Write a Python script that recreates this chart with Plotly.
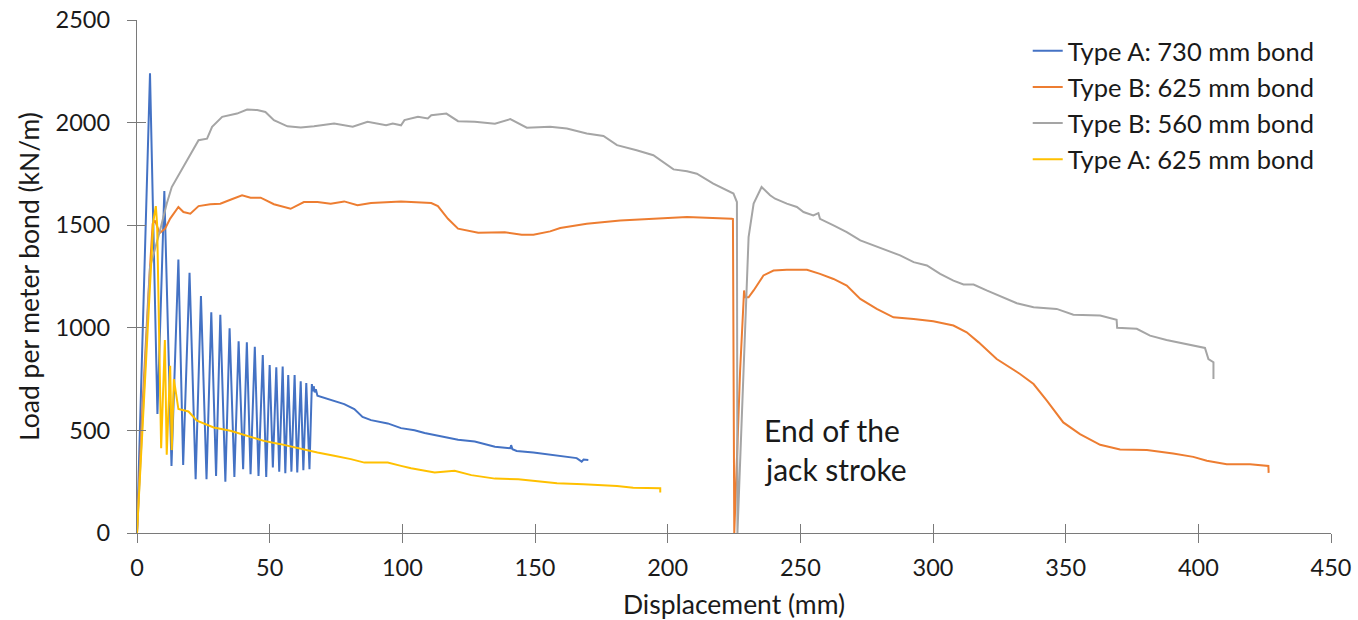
import plotly.graph_objects as go

# ---- data ----
a730_x = [0, 4.9, 7.7, 10.3, 13.0, 15.6, 17.4, 19.8, 22.1, 24.1, 26.2, 28.0, 29.8, 31.4, 33.3, 34.9,
          36.7, 38.3, 40.0, 41.4, 42.8, 44.4, 45.8, 47.4, 48.7, 50.0, 51.2, 52.5, 53.6, 54.9, 55.9,
          57.0, 58.2, 59.4, 60.4, 61.7, 62.7, 63.8, 65.0, 65.9, 66.3, 66.6, 67.0, 67.4, 68.0, 73.0,
          78.1, 81.9, 85.0, 88.2, 94.5, 99.5, 104.6, 108.4, 114.7, 121.0, 127.3, 134.9, 140.7, 141.0,
          141.5, 143.1, 149.4, 155.7, 162.0, 165.7, 167.6, 168.3, 170.1]
a730_y = [0, 2240, 580, 1667, 327, 1333, 332, 1268, 262, 1155, 262, 1076, 278, 1064, 250, 998,
          273, 934, 311, 929, 287, 908, 278, 867, 273, 819, 319, 807, 299, 811, 291,
          770, 299, 770, 295, 739, 306, 731, 311, 726, 690, 715, 685, 700, 669, 648,
          628, 604, 566, 550, 534, 511, 501, 487, 470, 454, 446, 420, 413, 428,
          408, 400, 392, 381, 371, 365, 348, 358, 356]

b625_x = [0, 2.0, 4.3, 5.9, 6.8, 8.5, 10.6, 12.5, 15.6, 17.5, 20.1, 23.2, 27.6, 31.4, 35.2, 39.6,
          42.8, 46.6, 51.6, 57.9, 62.9, 68.0, 73.0, 78.1, 83.1, 88.2, 99.5, 110.9, 113.4, 117.2,
          121.0, 128.6, 138.6, 145.0, 149.4, 155.7, 159.5, 169.5, 182.1, 194.6, 207.3, 224.2, 224.6,
          225.1, 227.3, 228.8, 229.2, 230.5, 232.4, 236.1, 239.9, 244.9, 252.5, 257.4, 262.5, 267.5,
          272.6, 278.8, 285.1, 292.7, 300.1, 307.7, 312.7, 317.2, 324.0, 332.8, 337.9, 342.9, 349.1,
          355.4, 363.0, 370.5, 380.6, 390.5, 398.1, 403.2, 410.7, 419.5, 426.4, 426.5]
b625_y = [0, 600, 1165, 1507, 1523, 1462, 1483, 1532, 1589, 1564, 1556, 1593, 1602, 1605, 1624, 1646,
          1634, 1634, 1602, 1580, 1613, 1613, 1605, 1616, 1597, 1608, 1616, 1608, 1593, 1531,
          1483, 1463, 1466, 1453, 1453, 1470, 1486, 1507, 1523, 1531, 1540, 1531, 1530,
          0, 791, 1182, 1149, 1149, 1182, 1255, 1279, 1283, 1283, 1263, 1238, 1206,
          1141, 1092, 1051, 1043, 1032, 1011, 978, 929, 848, 775, 726, 645, 539,
          482, 430, 407, 404, 387, 371, 352, 335, 335, 327, 293]

b560_x = [0, 2.5, 4.9, 8.7, 11.2, 13.1, 17.5, 20.1, 23.2, 26.4, 28.3, 32.1, 35.2, 37.7, 41.5, 45.3,
          48.4, 51.6, 56.7, 61.7, 66.7, 73.0, 74.3, 81.3, 86.9, 93.9, 96.4, 99.5, 100.8, 105.9,
          109.6, 110.9, 116.6, 121.0, 127.3, 134.9, 140.7, 146.9, 155.7, 162.0, 169.5, 175.8, 180.9,
          188.3, 194.6, 202.2, 207.3, 211.0, 217.2, 224.8, 226.1, 226.3, 228.6, 230.5, 232.4, 235.4,
          238.6, 240.5, 244.9, 248.7, 251.2, 254.9, 256.8, 257.4, 262.5, 267.5, 272.6, 277.5, 282.6,
          287.6, 292.7, 297.7, 302.7, 307.7, 311.5, 315.3, 320.2, 326.5, 331.6, 337.9, 346.6, 352.9,
          363.0, 369.2, 369.4, 376.8, 381.8, 388.0, 396.9, 402.5, 403.8, 405.7, 405.7]
b560_y = [0, 700, 1295, 1475, 1605, 1686, 1784, 1841, 1914, 1922, 1979, 2028, 2036, 2044, 2064, 2061,
          2052, 2012, 1982, 1976, 1982, 1995, 1995, 1980, 2004, 1987, 1995, 1987, 2012, 2028,
          2020, 2036, 2044, 2007, 2004, 1995, 2017, 1975, 1980, 1971, 1947, 1935, 1890,
          1865, 1841, 1772, 1763, 1751, 1703, 1654, 1613, 0, 791, 1442, 1605, 1686,
          1646, 1629, 1605, 1589, 1564, 1548, 1559, 1531, 1499, 1466, 1426, 1401, 1377,
          1353, 1320, 1304, 1263, 1230, 1211, 1211, 1182, 1149, 1120, 1100, 1092, 1064,
          1060, 1039, 1000, 995, 962, 941, 918, 902, 848, 832, 751]

a625_x = [0, 6.2, 7.1, 7.6, 9.1, 10.5, 11.2, 12.5, 13.1, 13.9, 15.6, 19.4, 22.6, 28.9, 35.2, 41.5,
          47.8, 54.1, 60.4, 65.5, 68.0, 74.3, 80.6, 85.7, 94.5, 99.5, 103.3, 112.2, 119.7, 126.0,
          134.9, 143.7, 149.4, 158.3, 168.2, 180.9, 187.0, 197.2, 197.2]
a625_y = [0, 1523, 1593, 1500, 413, 941, 381, 815, 404, 750, 604, 592, 547, 514, 498, 474,
          449, 433, 413, 400, 392, 376, 360, 343, 343, 327, 316, 295, 303, 282,
          265, 262, 254, 243, 238, 229, 221, 218, 197]

names = ["Type A: 730 mm bond", "Type B: 625 mm bond", "Type B: 560 mm bond", "Type A: 625 mm bond"]
colors = ["#4472C4", "#ED7D31", "#A5A5A5", "#FFC000"]

x_ticks = [0, 50, 100, 150, 200, 250, 300, 350, 400, 450]
y_ticks = [0, 500, 1000, 1500, 2000, 2500]

FONT = "Lato"
AXC = "#7a7a7a"

fig = go.Figure()
for xs, ys, nm, c in zip([a730_x, b625_x, b560_x, a625_x], [a730_y, b625_y, b560_y, a625_y], names, colors):
    fig.add_trace(go.Scatter(x=xs, y=ys, mode="lines", name=nm,
                             line=dict(color=c, width=2)))

# invisible trace for the overlay axes (inside half of the cross ticks)
fig.add_trace(go.Scatter(x=[None], y=[None], xaxis="x2", yaxis="y2", showlegend=False,
                         hoverinfo="skip"))

fig.update_layout(
    width=1358, height=620,
    margin=dict(l=137, r=27, t=20, b=87, autoexpand=False),
    paper_bgcolor="white", plot_bgcolor="white",
    font=dict(family=FONT, size=23, color="#1a1a1a"),
    xaxis=dict(range=[0, 450], tickvals=x_ticks, ticks="outside", ticklen=9, tickcolor=AXC,
               showline=True, linecolor=AXC, linewidth=1.3, showgrid=False, zeroline=False,
               tickfont=dict(size=23.5), ticklabelstandoff=5, automargin=False,
               title=dict(text="Displacement (mm)", font=dict(size=26.5), standoff=16)),
    yaxis=dict(range=[0, 2500], tickvals=y_ticks, ticks="outside", ticklen=9, tickcolor=AXC,
               showline=True, linecolor=AXC, linewidth=1.3, showgrid=False, zeroline=False,
               tickfont=dict(size=23.5), ticklabelstandoff=12, automargin=False,
               title=dict(text="Load per meter bond (kN/m)", font=dict(size=26.5), standoff=8)),
    xaxis2=dict(range=[0, 450], tickvals=x_ticks, ticks="inside", ticklen=9, tickcolor=AXC,
                showticklabels=False, showline=False, showgrid=False, zeroline=False,
                overlaying="x", side="bottom", automargin=False),
    yaxis2=dict(range=[0, 2500], tickvals=y_ticks, ticks="inside", ticklen=9, tickcolor=AXC,
                showticklabels=False, showline=False, showgrid=False, zeroline=False,
                overlaying="y", side="left", automargin=False),
    legend=dict(x=0.746, y=0.985, xanchor="left", yanchor="top", bgcolor="rgba(0,0,0,0)",
                font=dict(size=25.5), tracegroupgap=0),
    showlegend=True,
)

fig.add_annotation(x=235.5, y=500, xref="x", yref="y", text="End of the", showarrow=False,
                   xanchor="left", yanchor="middle", font=dict(size=30, family=FONT))
fig.add_annotation(x=235.5, y=314, xref="x", yref="y", text="jack stroke", showarrow=False,
                   xanchor="left", yanchor="middle", font=dict(size=30, family=FONT))

fig.write_html("out.html", config={"displayModeBar": False},
               post_script="document.body.style.margin='0';document.body.style.overflow='hidden';")
